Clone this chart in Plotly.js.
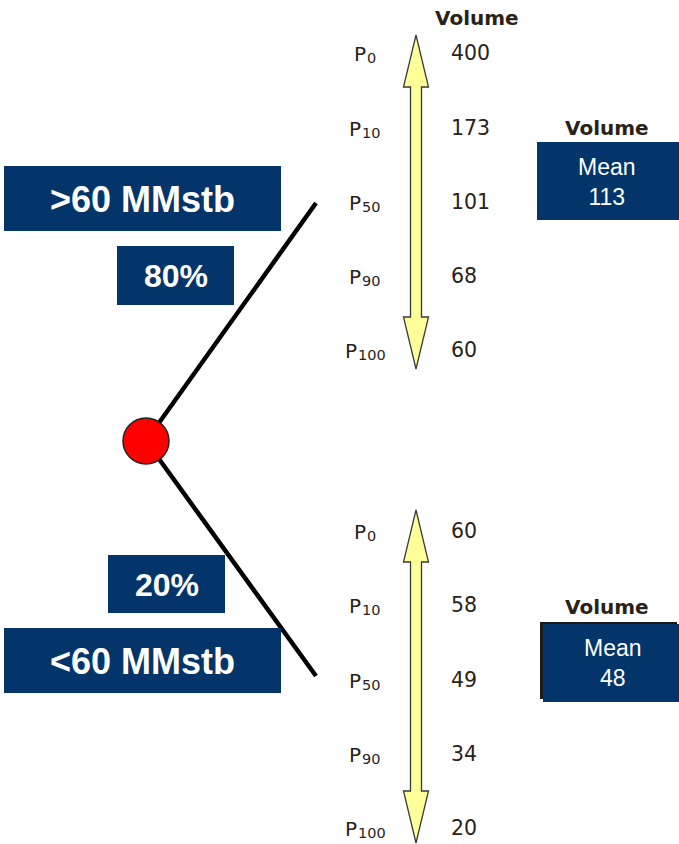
<!DOCTYPE html>
<html>
<head>
<meta charset="utf-8">
<script src="https://cdn.plot.ly/plotly-3.0.1.min.js"></script>
<style>
html,body{margin:0;padding:0;background:#fff;}
#chart{width:679px;height:844px;}
</style>
</head>
<body>
<div id="chart"></div>
<script>
// ---- data ----
var percentileLetter = "P";
var percentileSubs = ["0", "10", "50", "90", "100"];
var upperVolumes = [400, 173, 101, 68, 60];
var lowerVolumes = [60, 58, 49, 34, 20];
var branchLabels = [">60 MMstb", "<60 MMstb"];
var branchProbabilities = ["80%", "20%"];
var meanVolumes = [113, 48];
var volumeHeader = "Volume";

// ---- layout ----
var NAVY = "#03356a";
var TXT = "#2a2218";
var shapes = [];
var ann = [];
var traces = [];

function rect(x0, y0, x1, y1) {
  shapes.push({type: "rect", xref: "x", yref: "y", x0: x0, y0: y0, x1: x1, y1: y1,
    fillcolor: NAVY, line: {width: 0}, layer: "above"});
}
function arrow(cx, top, bot) {
  var hw = 12.5, sw = 5.5, hl = 52;
  var p = "M " + cx + " " + top +
    " L " + (cx + hw) + " " + (top + hl) +
    " L " + (cx + sw) + " " + (top + hl) +
    " L " + (cx + sw) + " " + (bot - hl) +
    " L " + (cx + hw) + " " + (bot - hl) +
    " L " + cx + " " + bot +
    " L " + (cx - hw) + " " + (bot - hl) +
    " L " + (cx - sw) + " " + (bot - hl) +
    " L " + (cx - sw) + " " + (top + hl) +
    " L " + (cx - hw) + " " + (top + hl) + " Z";
  shapes.push({type: "path", xref: "x", yref: "y", path: p,
    fillcolor: "#ffff99", line: {color: "#3a3a3a", width: 1.3}});
}
var labelFont = {family: "DejaVu Sans", size: 20, color: TXT};
var subFont = {family: "DejaVu Sans", size: 14.5, color: TXT};
function ladder(ys, vols) {
  for (var i = 0; i < percentileSubs.length; i++) {
    var n = percentileSubs[i].length;
    var split = 365 - (12 + 9.2 * n) / 2 + 12;
    ann.push({x: split + 0.5, y: ys[i] - 1, text: percentileLetter, showarrow: false, borderpad: 0,
      xanchor: "right", yanchor: "middle", font: labelFont});
    ann.push({x: split - 0.5, y: ys[i] + 3, text: percentileSubs[i], showarrow: false, borderpad: 0,
      xanchor: "left", yanchor: "middle", font: subFont});
  }
  traces.push({type: "scatter", mode: "text", x: ys.map(function () { return 451; }), y: ys,
    text: vols.map(String), textposition: "middle right", hoverinfo: "skip",
    textfont: {family: "DejaVu Sans", size: 20.5, color: TXT}});
}
var hfont = {family: "DejaVu Sans", size: 20, color: TXT};

// decision lines
shapes.push({type: "line", x0: 146, y0: 441, x1: 316, y1: 203, line: {color: "#000", width: 4.5}});
shapes.push({type: "line", x0: 146, y0: 441, x1: 316, y1: 676, line: {color: "#000", width: 4.5}});
// node
shapes.push({type: "circle", x0: 123, y0: 418, x1: 169, y1: 464, fillcolor: "#ff0000",
  line: {color: "#222", width: 1.5}});

// arrows and ladders
arrow(416, 35, 369);
arrow(416, 510, 843);
ladder([55, 130, 204, 278, 352], upperVolumes);
ladder([533, 607, 682, 756, 830], lowerVolumes);
ann.push({x: 477, y: 18, text: "<b>" + volumeHeader + "</b>", showarrow: false, font: hfont});

// branch boxes
rect(4, 166, 281, 231);
rect(117, 246, 234, 305);
rect(108, 555, 225, 613);
rect(4, 628, 281, 693);
var bfont = {family: "Liberation Sans", size: 36, color: "#fff"};
var pfont = {family: "Liberation Sans", size: 32, color: "#fff"};
ann.push({x: 142.5, y: 199, text: "<b>" + branchLabels[0] + "</b>", showarrow: false, font: bfont});
ann.push({x: 175.5, y: 276, text: "<b>" + branchProbabilities[0] + "</b>", showarrow: false, font: pfont});
ann.push({x: 166.5, y: 585, text: "<b>" + branchProbabilities[1] + "</b>", showarrow: false, font: pfont});
ann.push({x: 142.5, y: 661, text: "<b>" + branchLabels[1] + "</b>", showarrow: false, font: bfont});

// mean boxes
shapes.push({type: "rect", x0: 540, y0: 622, x1: 677, y1: 699, fillcolor: "#1a1a1a", line: {width: 0}});
rect(537, 142, 679, 220);
rect(543, 624, 679, 702);
var mfont = {family: "Liberation Sans", size: 23, color: "#fff"};
ann.push({x: 607, y: 128, text: "<b>" + volumeHeader + "</b>", showarrow: false, font: hfont});
ann.push({x: 607, y: 182, text: "Mean<br>" + meanVolumes[0], showarrow: false, font: mfont});
ann.push({x: 607, y: 607, text: "<b>" + volumeHeader + "</b>", showarrow: false, font: hfont});
ann.push({x: 613, y: 663, text: "Mean<br>" + meanVolumes[1], showarrow: false, font: mfont});

var layout = {
  width: 679, height: 844,
  margin: {l: 0, r: 0, t: 0, b: 0},
  paper_bgcolor: "#fff", plot_bgcolor: "#fff",
  xaxis: {range: [0, 679], visible: false, fixedrange: true},
  yaxis: {range: [844, 0], visible: false, fixedrange: true},
  shapes: shapes,
  annotations: ann,
  showlegend: false
};
Plotly.newPlot("chart", traces, layout, {displayModeBar: false, staticPlot: true});
</script>
</body>
</html>
